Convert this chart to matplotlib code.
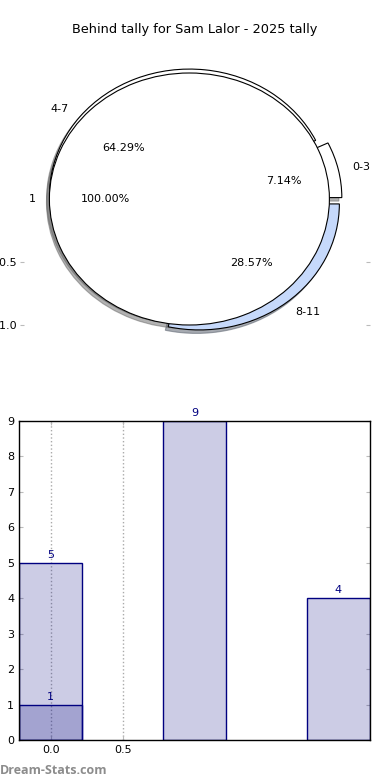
import matplotlib
matplotlib.use("Agg")
import matplotlib.pyplot as plt

title = "Behind tally for Sam Lalor - 2025 tally"

# outer ring of the pie
ring_labels = ['0-3', '4-7', '8-11']
ring_counts = [1, 9, 4]
ring_colors = ['white', 'white', '#c6d9fb']

# inner pie
inner_labels = ['1']
inner_counts = [1]

# bars
bar_x = [0, 1, 2]
bar_counts = [5, 9, 4]
over_x = [0]
over_counts = [1]

pie_yticks = [-1.0, -0.5]
bar_xticks = [0.0, 0.5]
bar_yticks = list(range(10))

tick_grey = '#bbbbbb'

fig = plt.figure(figsize=(3.9, 7.8), dpi=100)

# --- pie ---
ax1 = fig.add_axes([20 / 390, 1 - 356.5 / 780, 350 / 390, 315 / 780])
edge = {'edgecolor': 'black', 'linewidth': 0.8}
shade = {'ox': -0.015, 'oy': -0.02, 'shade': 0.6}
ax1.pie(ring_counts, labels=ring_labels, colors=ring_colors, autopct='%.2f%%',
        explode=[0.05] * len(ring_counts), shadow=shade, startangle=0,
        wedgeprops=edge, textprops={'fontsize': 8})
ax1.pie(inner_counts, labels=inner_labels, colors=['white'], autopct='%.2f%%',
        explode=[0.04], shadow=shade, startangle=0,
        wedgeprops=edge, textprops={'fontsize': 8})
ax1.set_aspect('auto')
ax1.set_xlim(-1.25, 1.25)
ax1.set_ylim(-1.25, 1.25)
ax1.set_xticks([])
ax1.set_yticks(pie_yticks)
ax1.set_yticklabels(['-%.1f' % abs(v) for v in pie_yticks], fontsize=8)
ax1.tick_params(axis='y', direction='in', length=3, color=tick_grey,
                left=True, right=True, pad=2)
ax1.set_frame_on(False)
fig.text(0.5, 1 - 30 / 780, title, ha='center', va='center', fontsize=9.3)

# --- bars ---
ax2 = fig.add_axes([19 / 390, 40 / 780, 351 / 390, 319 / 780])
w = 0.44
b1 = ax2.bar(bar_x, bar_counts, width=w, color=(0, 0, 0.5, 0.2),
             edgecolor='navy', linewidth=1)
b2 = ax2.bar(over_x, over_counts, width=w, color=(0, 0, 0.5, 0.2),
             edgecolor='navy', linewidth=1)
for x, v in list(zip(bar_x, bar_counts)) + list(zip(over_x, over_counts)):
    ax2.annotate(str(v), (x, v), xytext=(0, 2), textcoords='offset points',
                 ha='center', va='bottom', fontsize=8, color='navy')
ax2.set_xlim(-w / 2, 2 + w / 2)
ax2.set_ylim(0, 9)
ax2.set_xticks(bar_xticks)
ax2.set_xticklabels(['%.1f' % v for v in bar_xticks])
ax2.set_yticks(bar_yticks)
ax2.tick_params(direction='in', length=3, color=tick_grey, labelsize=8,
                top=True, right=True)
ax2.xaxis.grid(True, linestyle=':', color='#aaaaaa', linewidth=1)
ax2.set_axisbelow(True)
for s in ax2.spines.values():
    s.set_linewidth(1)

fig.text(0.0, 1 - 770 / 780, 'Dream-Stats.com', ha='left', va='center',
         fontsize=9, color='#8c8c8c', family='Open Sans', weight='bold')

fig.savefig('out.png', dpi=100)
